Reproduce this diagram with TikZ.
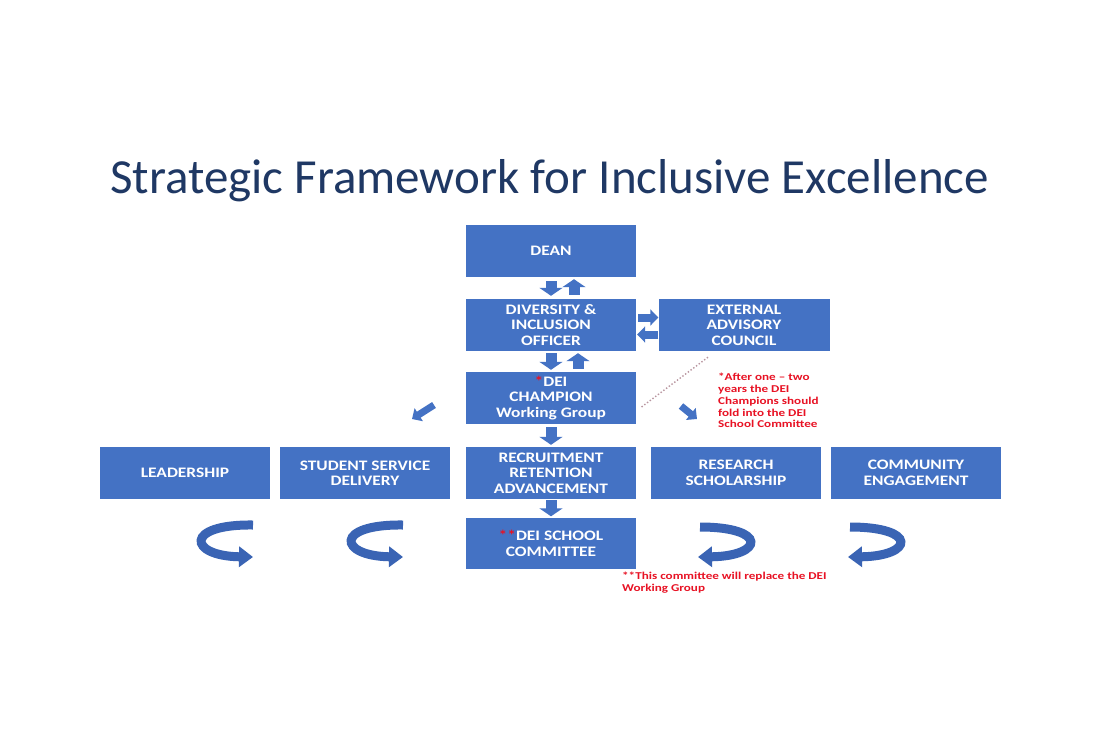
\documentclass[tikz,border=0pt]{standalone}
\usepackage{fontspec}
\setmainfont{Carlito}
\newfontfamily\boxfont[FakeStretch=1.2]{Carlito}
\newfontfamily\notefont[FakeStretch=1.25]{Carlito}
\usetikzlibrary{arrows.meta,calc}
\definecolor{boxblue}{RGB}{68,114,196}
\definecolor{curveblue}{RGB}{58,100,180}
\definecolor{titleblue}{RGB}{31,56,100}
\definecolor{notered}{RGB}{232,18,36}
\definecolor{dotcol}{RGB}{185,150,160}
\begin{document}
\begin{tikzpicture}[x=1pt,y=-1pt,
  box/.style={rectangle, fill=boxblue, text=white, minimum width=170pt,
    minimum height=52pt, inner sep=0pt, align=center,
    font=\boxfont\bfseries\fontsize{14.5}{15.5}\selectfont},
  vblock/.style={draw=boxblue, line width=11pt, -{Triangle[width=23pt,length=8pt]}},
  hblock/.style={draw=boxblue, line width=8pt, -{Triangle[width=16pt,length=8pt]}},
  dblock/.style={draw=boxblue, line width=7pt, -{Triangle[width=15pt,length=8pt]}},
  curvearrow/.style={draw=curveblue, line width=9pt, -{Triangle[width=20pt,length=14pt]}},
  note/.style={inner sep=0pt, align=left, text=notered,
    font=\notefont\bfseries\fontsize{10.5}{11.8}\selectfont}
]
\useasboundingbox (0,0) rectangle (1100,731);
\fill[white] (0,0) rectangle (1100,731);

% title
\node[anchor=base, text=titleblue, inner sep=0pt,
  font=\fontsize{49}{58}\selectfont] (title) at (549.5,193)
  {Strategic Framework for Inclusive Excellence};

% boxes
\node[box] (dean) at (551,251) {DEAN};
\node[box] (dio) at (551,325) {DIVERSITY \&\\INCLUSION\\OFFICER};
\node[box, minimum width=171pt] (eac) at (744,325) {EXTERNAL\\ADVISORY\\COUNCIL};
\node[box] (champ) at (551,398) {{\color{notered}*}DEI\\CHAMPION\\Working Group};
\node[box] (lead) at (185,473) {LEADERSHIP};
\node[box] (stud) at (365,473) {STUDENT SERVICE\\DELIVERY};
\node[box] (recr) at (551,473) {RECRUITMENT\\RETENTION\\ADVANCEMENT};
\node[box] (res) at (736,473) {RESEARCH\\SCHOLARSHIP};
\node[box] (comm) at (916,473) {COMMUNITY\\ENGAGEMENT};
\node[box, minimum height=51pt] (school) at (551,543.5) {{\color{notered}**}DEI SCHOOL\\COMMITTEE};

% block arrows
\draw[vblock] ($(dean.south)+(0,4)$) -- ($(dio.north)+(0,-3)$);
\draw[vblock] ($(dio.north)+(23,-4)$) -- ($(dean.south)+(23,2)$);
\draw[vblock] ($(dio.south)+(0,2)$) -- ($(champ.north)+(0,-2)$);
\draw[vblock] ($(champ.north)+(27,-3)$) -- ($(dio.south)+(27,2)$);
\draw[hblock] ($(dio.east)+(2,-7.5)$) -- ($(eac.west)+(0,-7.5)$);
\draw[hblock] ($(eac.west)+(0,9.5)$) -- ($(dio.east)+(1,9.5)$);
\draw[vblock] ($(champ.south)+(0,3)$) -- ($(recr.north)+(0,-2)$);
\draw[vblock] ($(recr.south)+(0,1)$) -- ($(school.north)+(0,-1.5)$);

% diagonal arrows
\coordinate (la1) at (434,405);
\coordinate (la2) at (412,419);
\coordinate (ra1) at (681,406);
\coordinate (ra2) at (697,419);
\draw[dblock] (la1) -- (la2);
\draw[dblock] (ra1) -- (ra2);

% dotted link
\coordinate (d1) at ($(eac.south)+(-36,6)$);
\coordinate (d2) at ($(champ.east)+(4,10)$);
\draw[dotcol, dotted, line width=1.4pt] (d1) -- (d2);

% curved arrows
\coordinate (c1a) at (253,525); \coordinate (c1b) at (253,557);
\coordinate (c2a) at (403,525); \coordinate (c2b) at (403,557);
\coordinate (c3a) at (700,527); \coordinate (c3b) at (698,557);
\coordinate (c4a) at (850,527); \coordinate (c4b) at (848,557);
\draw[curvearrow] (c1a) .. controls (184,524) and (188,556) .. (c1b);
\draw[curvearrow] (c2a) .. controls (334,524) and (338,556) .. (c2b);
\draw[curvearrow] (c3a) .. controls (768,527) and (764,556) .. (c3b);
\draw[curvearrow] (c4a) .. controls (918,527) and (914,556) .. (c4b);

% notes
\node[note, anchor=north west] (note1) at (718,373)
  {*After one – two\\years the DEI\\Champions should\\fold into the DEI\\School Committee};
\node[note, anchor=north west] (note2) at (622,571.5)
  {**This committee will replace the DEI\\Working Group};
\end{tikzpicture}
\end{document}
